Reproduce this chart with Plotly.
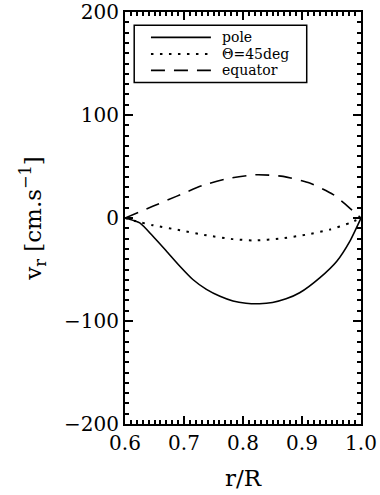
import plotly.graph_objects as go

# pole
r_pole = [0.600, 0.625, 0.647, 0.670, 0.693, 0.715, 0.738, 0.761, 0.783, 0.805, 0.828, 0.850, 0.873, 0.896, 0.930, 0.959, 0.981, 1.000]
v_pole = [0.0, -4.8, -17.5, -32.0, -46.8, -59.7, -69.3, -76.0, -80.5, -82.7, -83.2, -82.0, -78.5, -72.6, -58.1, -41.9, -22.6, 0.0]

# Theta = 45 deg
r_45 = [0.600, 0.619, 0.647, 0.693, 0.738, 0.783, 0.820, 0.863, 0.908, 0.947, 0.981, 1.000]
v_45 = [0.0, -3.2, -7.0, -11.8, -16.8, -20.5, -21.8, -20.0, -16.1, -11.3, -4.8, 0.0]

# equator
r_eq = [0.600, 0.647, 0.687, 0.732, 0.778, 0.823, 0.868, 0.913, 0.953, 0.987, 1.000]
v_eq = [0.0, 11.3, 21.0, 31.7, 38.7, 42.0, 40.4, 33.9, 22.7, 6.5, 0.0]

labels = ["pole", "\u0398=45deg", "equator"]
dashes = ["solid", "2.5px,6.5px", "14px,9px"]
widths = [1.6, 2.0, 1.6]

FONT = "DejaVu Serif"

fig = go.Figure()
for r, v, name, dash, w in zip([r_pole, r_45, r_eq], [v_pole, v_45, v_eq], labels, dashes, widths):
    fig.add_trace(go.Scatter(x=r, y=v, mode="lines", name=name, showlegend=False,
                             line=dict(color="black", width=w, shape="spline", smoothing=0.6, dash=dash)))

axis_common = dict(
    showline=True, linecolor="black", linewidth=2, mirror="allticks",
    ticks="inside", ticklen=8, tickwidth=2, tickcolor="black",
    showgrid=False, zeroline=False, automargin=False, ticklabeloverflow="allow",
    tickfont=dict(family=FONT, size=20, color="black"),
)

minor_common = dict(ticks="inside", ticklen=4, tickwidth=1.5, tickcolor="black", showgrid=False)

fig.update_xaxes(
    range=[0.6, 1.0], tick0=0.6, dtick=0.1, tickformat=".1f",
    minor=dict(dtick=0.01, tick0=0.6, **minor_common),
    title=dict(text="r/R", font=dict(family=FONT, size=23, color="black"), standoff=16),
    **axis_common,
)
fig.update_yaxes(
    range=[-200, 200], tick0=0, dtick=100,
    minor=dict(dtick=10, tick0=0, **minor_common),
    title=dict(text="v<sub>r</sub> [cm.s<sup>\u22121</sup>]", font=dict(family=FONT, size=23, color="black"), standoff=16),
    **axis_common,
)

# legend box drawn in the plot's paper coordinates
leg_x0, leg_x1, leg_y0, leg_y1 = 0.039, 0.770, 0.829, 0.968
row_y = [0.9383, 0.8983, 0.8584]
line_x0, line_x1, text_x = 0.110, 0.364, 0.405

shapes = [dict(type="rect", xref="paper", yref="paper", x0=leg_x0, x1=leg_x1, y0=leg_y0, y1=leg_y1,
               line=dict(color="black", width=1.5), fillcolor="white", layer="above")]
annotations = []
for y, name, dash, w in zip(row_y, labels, dashes, widths):
    shapes.append(dict(type="line", xref="paper", yref="paper", x0=line_x0, x1=line_x1, y0=y, y1=y,
                       line=dict(color="black", width=w, dash=dash), layer="above"))
    annotations.append(dict(xref="paper", yref="paper", x=text_x, y=y, xanchor="left", yanchor="middle",
                            text=name, showarrow=False, borderpad=0,
                            font=dict(family=FONT, size=14, color="black")))

fig.update_layout(
    width=380, height=495,
    margin=dict(l=125, r=19, t=12, b=71, autoexpand=False),
    paper_bgcolor="white", plot_bgcolor="white",
    showlegend=False,
    shapes=shapes, annotations=annotations,
)

fig.write_html("out.html")
